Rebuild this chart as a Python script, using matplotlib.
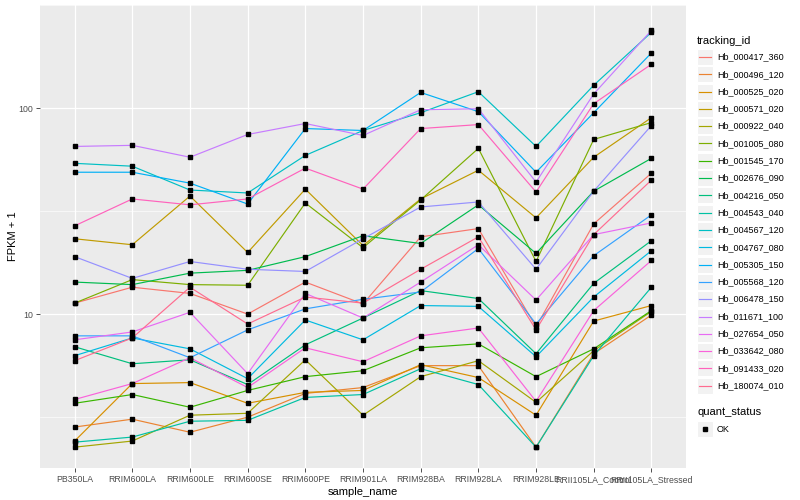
import numpy as np
import matplotlib
matplotlib.use("Agg")
from matplotlib import pyplot as plt
from matplotlib.lines import Line2D
from matplotlib.patches import Rectangle

plt.rcParams["font.family"] = ["Liberation Sans", "DejaVu Sans"]

samples = ["PB350LA", "RRIM600LA", "RRIM600LE", "RRIM600SE", "RRIM600PE", "RRIM901LA",
           "RRIM928BA", "RRIM928LA", "RRIM928LE", "RRII105LA_Control", "RRII105LA_Stressed"]

# FPKM + 1
hb_000417_360 = [11.3, 13.5, 12.6, 10.0, 14.3, 11.2, 23.7, 26.0, 8.66, 27.4, 48.3]
hb_000496_120 = [2.83, 3.09, 2.67, 3.16, 4.12, 4.40, 5.62, 5.62, 2.26, 6.42, 9.89]
hb_000525_020 = [2.42, 4.60, 4.65, 3.69, 4.17, 4.26, 5.68, 4.92, 3.23, 9.25, 11.0]
hb_000571_020 = [23.2, 21.7, 37.4, 19.9, 40.4, 21.5, 36.2, 49.9, 29.3, 57.7, 89.8]
hb_000922_040 = [2.26, 2.42, 3.23, 3.30, 6.00, 3.23, 4.97, 5.94, 3.73, 6.64, 10.3]
hb_001005_080 = [11.3, 14.7, 13.9, 13.8, 34.6, 21.0, 35.8, 63.7, 18.0, 70.4, 85.0]
hb_001545_170 = [3.69, 4.07, 3.53, 4.26, 4.97, 5.31, 6.86, 7.17, 4.97, 6.78, 10.4]
hb_002676_090 = [14.3, 13.9, 15.8, 16.3, 19.0, 24.0, 22.0, 33.9, 19.7, 39.5, 57.0]
hb_004216_050 = [6.94, 5.74, 6.00, 4.55, 7.09, 9.57, 13.0, 11.9, 6.42, 14.1, 22.7]
hb_004543_040 = [2.39, 2.53, 3.02, 3.05, 3.94, 4.07, 5.43, 4.55, 2.26, 6.28, 13.5]
hb_004567_120 = [53.9, 52.2, 40.0, 38.7, 58.9, 77.8, 94.9, 120, 65.1, 129, 233]
hb_004767_080 = [6.28, 7.66, 6.78, 4.86, 9.36, 7.50, 11.0, 10.9, 6.21, 12.1, 20.3]
hb_005305_150 = [48.8, 48.8, 43.2, 34.2, 79.5, 77.8, 119, 96.0, 48.8, 94.9, 185]
hb_005568_120 = [7.84, 7.84, 6.14, 8.38, 10.6, 11.8, 12.8, 20.8, 8.95, 19.2, 30.3]
hb_006478_150 = [19.0, 14.9, 18.0, 16.5, 16.1, 23.2, 33.1, 35.0, 16.5, 39.5, 82.2]
hb_011671_100 = [65.1, 65.9, 57.7, 74.4, 84.1, 73.6, 98.1, 99.2, 43.7, 117, 238]
hb_027654_050 = [7.50, 8.19, 10.2, 5.14, 12.6, 9.57, 14.3, 21.7, 11.7, 24.3, 27.7]
hb_033642_080 = [3.85, 4.60, 6.14, 4.40, 6.86, 5.87, 7.84, 8.56, 3.77, 10.4, 18.2]
hb_091433_020 = [26.8, 36.2, 33.9, 36.2, 51.1, 40.4, 79.5, 83.1, 39.1, 105, 163]
hb_180074_010 = [5.94, 7.66, 13.5, 8.95, 12.1, 11.3, 16.5, 23.7, 8.38, 24.3, 44.7]

tracking_ids = ["Hb_000417_360", "Hb_000496_120", "Hb_000525_020", "Hb_000571_020",
                "Hb_000922_040", "Hb_001005_080", "Hb_001545_170", "Hb_002676_090",
                "Hb_004216_050", "Hb_004543_040", "Hb_004567_120", "Hb_004767_080",
                "Hb_005305_150", "Hb_005568_120", "Hb_006478_150", "Hb_011671_100",
                "Hb_027654_050", "Hb_033642_080", "Hb_091433_020", "Hb_180074_010"]
series = [hb_000417_360, hb_000496_120, hb_000525_020, hb_000571_020, hb_000922_040,
          hb_001005_080, hb_001545_170, hb_002676_090, hb_004216_050, hb_004543_040,
          hb_004567_120, hb_004767_080, hb_005305_150, hb_005568_120, hb_006478_150,
          hb_011671_100, hb_027654_050, hb_033642_080, hb_091433_020, hb_180074_010]

# ggplot hue palette, 20 levels
colors = ["#F8766D", "#EA8331", "#D89000", "#C09B00", "#A3A500", "#7CAE00", "#39B600",
          "#00BB4E", "#00BF7D", "#00C1A3", "#00BFC4", "#00BAE0", "#00B0F6", "#35A2FF",
          "#9590FF", "#C77CFF", "#E76BF3", "#FA62DB", "#FF62BC", "#FF6C90"]

fig = plt.figure(figsize=(8, 5), dpi=100)
ax = fig.add_axes([0.05, 0.064, 0.8075, 0.926])
ax.set_facecolor("#EBEBEB")
x = np.arange(len(samples))

for vals, c in zip(series, colors):
    ax.plot(x, vals, color=c, lw=0.85, zorder=3)
for vals in series:
    ax.plot(x, vals, ls="none", marker="s", ms=2.2, color="black", zorder=4)

ax.set_yscale("log")
allv = np.log10(np.concatenate([np.array(s) for s in series]))
lo, hi = allv.min(), allv.max()
pad = 0.05 * (hi - lo)
ax.set_ylim(10 ** (lo - pad), 10 ** (hi + pad))
ax.set_xlim(-0.6, len(samples) - 0.4)

ax.set_yticks([10, 100])
ax.set_yticklabels(["10", "100"])
ax.set_yticks([10 ** 0.5, 10 ** 1.5, 10 ** 2.5], minor=True)
ax.yaxis.set_minor_formatter(plt.NullFormatter())
ax.set_xticks(x)
ax.set_xticklabels(samples)
ax.tick_params(axis="both", which="major", length=3, width=0.6, color="#333333",
               labelsize=6.3, labelcolor="#4D4D4D", pad=2)
ax.tick_params(axis="y", which="minor", length=0)
ax.grid(which="major", color="white", lw=0.9, zorder=0)
ax.grid(which="minor", axis="y", color="white", lw=0.45, zorder=0)
ax.set_axisbelow(True)
for s in ax.spines.values():
    s.set_visible(False)

ax.set_xlabel("sample_name", fontsize=8, labelpad=2)
ax.set_ylabel("FPKM + 1", fontsize=8, labelpad=0.5)

# legends drawn by hand in figure pixels
W, H = 800, 500
def fx(px):
    return px / W
def fy(py):
    return 1 - py / H

fig.text(fx(697), fy(41), "tracking_id", fontsize=8, va="center", ha="left")
for i, (tid, c) in enumerate(zip(tracking_ids, colors)):
    yc = 57 + i * 17.3
    fig.patches.append(Rectangle((fx(697), fy(yc + 8)), 16 / W, 16 / H,
                                 transform=fig.transFigure, facecolor="#F2F2F2",
                                 edgecolor="white", lw=0.8))
    fig.lines.append(Line2D([fx(699), fx(711)], [fy(yc), fy(yc)], color=c, lw=0.85,
                            transform=fig.transFigure))
    fig.text(fx(717), fy(yc), tid, fontsize=6.5, va="center", ha="left")

fig.text(fx(697), fy(412), "quant_status", fontsize=8, va="center", ha="left")
fig.patches.append(Rectangle((fx(697), fy(437)), 16 / W, 16 / H,
                             transform=fig.transFigure, facecolor="#F2F2F2",
                             edgecolor="white", lw=0.8))
fig.lines.append(Line2D([fx(705)], [fy(429)], ls="none", marker="s", ms=2.2,
                        color="black", transform=fig.transFigure))
fig.text(fx(717), fy(429), "OK", fontsize=6.5, va="center", ha="left")

fig.savefig("out.png", dpi=100)
